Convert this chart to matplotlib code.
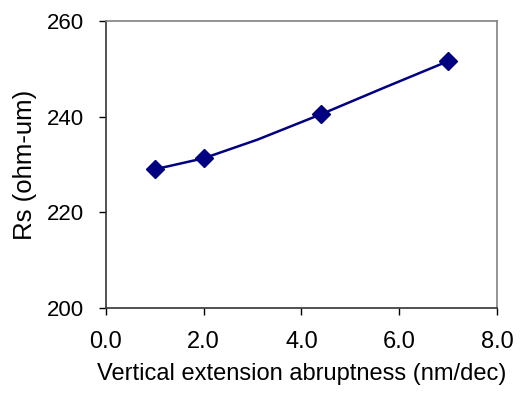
import matplotlib
matplotlib.use("Agg")
import matplotlib.pyplot as plt

# measured points (markers)
abrupt = [1.0, 2.0, 4.4, 7.0]
rs = [229.0, 231.3, 240.5, 251.6]

# connecting line as drawn in the original (has a few extra vertices)
line_x = [1.0, 2.0, 3.1, 4.4, 5.7, 7.0]
line_y = [229.0, 231.3, 235.2, 240.5, 246.1, 251.6]

x_ticks = [0, 2, 4, 6, 8]
y_ticks = [200, 220, 240, 260]

plt.rcParams['font.family'] = ['Liberation Sans', 'DejaVu Sans']

fig = plt.figure(figsize=(5.2, 3.96), dpi=100)
ax = fig.add_axes([0.2038, 0.2222, 0.7520, 0.7248])

navy = '#000080'
ax.plot(line_x, line_y, color=navy, lw=1.8, zorder=2)
ax.plot(abrupt, rs, linestyle='none', marker='D', markersize=9,
        color=navy, markeredgecolor=navy, zorder=3)

ax.set_xlim(0, 8)
ax.set_ylim(200, 260)
ax.set_xticks(x_ticks)
ax.set_xticklabels([f'{v:.1f}' for v in x_ticks])
ax.set_yticks(y_ticks)

for side in ['top', 'right']:
    ax.spines[side].set_color('#808080')
for side in ['left', 'bottom']:
    ax.spines[side].set_color('#333333')
for s in ax.spines.values():
    s.set_linewidth(1.2)

ax.tick_params(axis='y', direction='out', length=5, width=1, pad=11, labelsize=16)
ax.tick_params(axis='x', direction='out', length=5, width=1, pad=11.5, labelsize=17)

ax.set_xlabel('Vertical extension abruptness (nm/dec)', fontsize=17, labelpad=7)
ax.set_ylabel('Rs (ohm-um)', fontsize=18.5, labelpad=7)

fig.savefig('out.png', dpi=100)
